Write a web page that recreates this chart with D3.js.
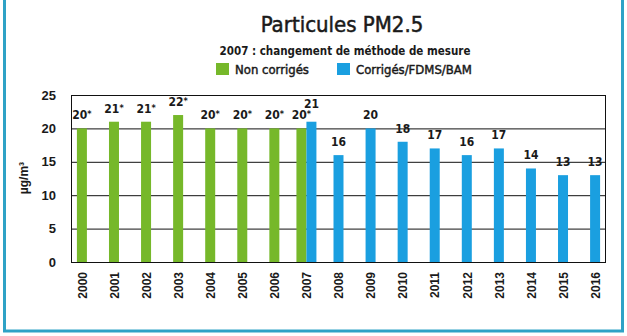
<!DOCTYPE html>
<html>
<head>
<meta charset="utf-8">
<script src="https://cdn.jsdelivr.net/npm/d3@7"></script>
<style>
  html, body { margin: 0; padding: 0; background: #fff; }
  svg { display: block; }
</style>
</head>
<body>
<svg id="chart" width="627" height="336"></svg>
<script>
// PM2.5 annual means (µg/m³)
const years = ["2000","2001","2002","2003","2004","2005","2006","2007","2008","2009","2010","2011","2012","2013","2014","2015","2016"];
const nonCorriges = [20, 21, 21, 22, 20, 20, 20, 20, null, null, null, null, null, null, null, null, null];
const corriges    = [null, null, null, null, null, null, null, 21, 16, 20, 18, 17, 16, 17, 14, 13, 13];
const yTicks = [0, 5, 10, 15, 20, 25];
const seriesNames = ["Non corrigés", "Corrigés/FDMS/BAM"];
const seriesColors = ["#76b82a", "#1a9fe0"];

(function () {
const svg = d3.select("#chart");
const condensed = "'DejaVu Sans Condensed', 'DejaVu Sans', sans-serif";
const arial = "'Liberation Sans', Arial, sans-serif";
const ink = "#1a1a1a";

// outer frame
svg.append("rect")
  .attr("x", 4.5).attr("y", -3)
  .attr("width", 618).attr("height", 334)
  .attr("fill", "none").attr("stroke", "#2ea2c6").attr("stroke-width", 3);

// titles
svg.append("text").attr("x", 342).attr("y", 32)
  .attr("text-anchor", "middle").attr("font-family", condensed)
  .attr("font-size", 22).attr("fill", ink)
  .attr("stroke", ink).attr("stroke-width", 0.5)
  .text("Particules PM2.5");
svg.append("text").attr("x", 345).attr("y", 55)
  .attr("text-anchor", "middle").attr("font-family", condensed)
  .attr("font-weight", "bold").attr("font-size", 11.5).attr("fill", ink)
  .text("2007 : changement de méthode de mesure");

// legend
const legendX = [216, 337];
seriesNames.forEach((name, i) => {
  const g = svg.append("g").attr("transform", `translate(${legendX[i]},63)`);
  g.append("rect").attr("width", 13).attr("height", 12).attr("fill", seriesColors[i]);
  g.append("text").attr("x", 19).attr("y", 10.5)
    .attr("font-family", condensed)
    .attr("font-size", 13).attr("fill", ink)
    .attr("stroke", ink).attr("stroke-width", 0.45)
    .text(name);
});

// plot area
const pLeft = 71, pRight = 606, pTop = 95, pBottom = 262;
const x = d3.scalePoint().domain(years).range([pLeft, pRight]).padding(0.34);
const y = d3.scaleLinear().domain([0, 25]).range([pBottom, pTop]);
const barW = 10;

// gridlines
svg.append("g").selectAll("line").data(yTicks.filter(t => t > 0 && t < 25)).join("line")
  .attr("x1", pLeft).attr("x2", pRight)
  .attr("y1", d => y(d) + 0.5).attr("y2", d => y(d) + 0.5)
  .attr("stroke", "#111").attr("stroke-width", 1);

// bars: where both series exist the two bars sit side by side around the year
function barX(i, s) {
  const c = x(years[i]);
  const both = nonCorriges[i] != null && corriges[i] != null;
  if (!both) return c - barW / 2;
  return s === 0 ? c - barW : c;
}
const rows = [];
years.forEach((yr, i) => {
  if (nonCorriges[i] != null) rows.push({ i, s: 0, v: nonCorriges[i] });
  if (corriges[i] != null) rows.push({ i, s: 1, v: corriges[i] });
});
svg.append("g").selectAll("rect").data(rows).join("rect")
  .attr("x", d => barX(d.i, d.s))
  .attr("y", d => y(d.v))
  .attr("width", barW)
  .attr("height", d => y(0) - y(d.v))
  .attr("fill", d => seriesColors[d.s]);

// value labels (uncorrected values marked with *)
const labels = svg.append("g").selectAll("text").data(rows).join("text")
  .attr("x", d => barX(d.i, d.s) + barW / 2)
  .attr("y", d => {
    const both = nonCorriges[d.i] != null && corriges[d.i] != null;
    return y(d.v) - (both && d.s === 1 ? 14 : 9);
  })
  .attr("text-anchor", "middle")
  .attr("font-family", condensed).attr("font-weight", "bold")
  .attr("font-size", 12).attr("fill", ink);
labels.append("tspan").text(d => d.v);
labels.filter(d => d.s === 0).append("tspan")
  .attr("font-size", 9).attr("dy", -2).text("*");

// frame of plot
svg.append("rect")
  .attr("x", pLeft + 0.5).attr("y", pTop + 0.5)
  .attr("width", pRight - pLeft - 1).attr("height", pBottom - pTop)
  .attr("fill", "none").attr("stroke", "#111").attr("stroke-width", 1);

// y axis
const yAxis = svg.append("g").attr("transform", `translate(${pLeft},0)`)
  .call(d3.axisLeft(y).tickValues(yTicks).tickSize(0).tickPadding(15));
yAxis.select(".domain").remove();
yAxis.selectAll("text")
  .attr("font-family", arial).attr("font-weight", "bold")
  .attr("font-size", 13).attr("fill", ink);

svg.append("text")
  .attr("transform", "translate(28,178) rotate(-90)")
  .attr("text-anchor", "middle")
  .attr("font-family", arial).attr("font-weight", "bold")
  .attr("font-size", 12).attr("fill", ink)
  .text("µg/m³");

// x axis
const xAxis = svg.append("g").attr("transform", `translate(0,${pBottom})`)
  .call(d3.axisBottom(x).tickSize(0).tickPadding(0));
xAxis.select(".domain").remove();
xAxis.selectAll("text")
  .attr("transform", "translate(0,10) rotate(-90)")
  .attr("text-anchor", "end")
  .attr("dy", "0.35em")
  .attr("x", 0).attr("y", 0)
  .attr("font-family", arial).attr("font-weight", "bold")
  .attr("font-size", 12).attr("fill", ink);
})();
</script>
</body>
</html>
